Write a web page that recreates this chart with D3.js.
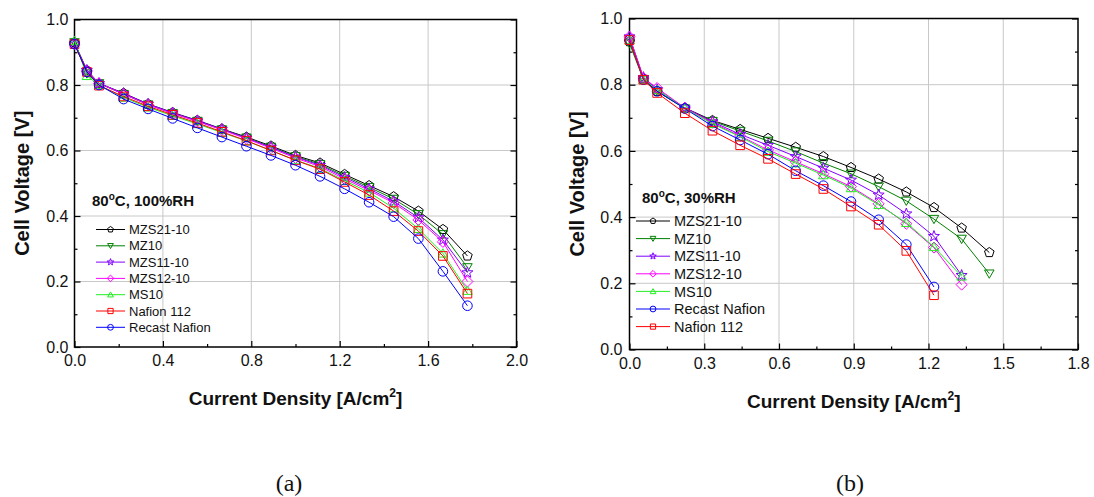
<!DOCTYPE html>
<html>
<head>
<meta charset="utf-8">
<script src="https://cdn.jsdelivr.net/npm/d3@7"></script>
<style>
  body { margin: 0; background: #fff; }
  svg { font-family: "Liberation Sans", Arial, sans-serif; }
</style>
</head>
<body>
<svg id="chart" width="1094" height="497"></svg>
<script>
// ---- data, panel (a): 80 C, 100 %RH ----
const xA = [0, 0.056, 0.111, 0.222, 0.333, 0.444, 0.556, 0.667, 0.778, 0.889, 1.0, 1.111, 1.222, 1.333, 1.444, 1.556, 1.667, 1.778];
const mzs21A = [0.93, 0.845, 0.805, 0.775, 0.742, 0.716, 0.692, 0.666, 0.641, 0.614, 0.585, 0.562, 0.527, 0.493, 0.459, 0.415, 0.359, 0.278];
const mz10A = [0.93, 0.835, 0.805, 0.772, 0.74, 0.714, 0.69, 0.664, 0.639, 0.611, 0.582, 0.558, 0.522, 0.488, 0.452, 0.405, 0.344, 0.243];
const mzs11A = [0.925, 0.845, 0.805, 0.774, 0.742, 0.715, 0.691, 0.665, 0.638, 0.61, 0.58, 0.555, 0.518, 0.483, 0.445, 0.395, 0.327, 0.227];
const mzs12A = [0.925, 0.843, 0.805, 0.772, 0.74, 0.713, 0.689, 0.663, 0.636, 0.607, 0.577, 0.551, 0.513, 0.478, 0.44, 0.388, 0.321, 0.2];
const ms10A = [0.935, 0.828, 0.8, 0.762, 0.732, 0.706, 0.681, 0.655, 0.629, 0.6, 0.571, 0.545, 0.508, 0.472, 0.424, 0.361, 0.286, 0.172];
const nafionA = [0.925, 0.84, 0.798, 0.765, 0.735, 0.709, 0.684, 0.657, 0.63, 0.6, 0.57, 0.543, 0.504, 0.464, 0.415, 0.354, 0.278, 0.163];
const recastA = [0.925, 0.84, 0.8, 0.757, 0.727, 0.698, 0.669, 0.641, 0.613, 0.585, 0.555, 0.521, 0.483, 0.442, 0.398, 0.331, 0.231, 0.126];

// ---- data, panel (b): 80 C, 30 %RH ----
const xB = [0, 0.056, 0.111, 0.222, 0.333, 0.444, 0.556, 0.667, 0.778, 0.889, 1.0, 1.111, 1.222, 1.333, 1.444];
const mzs21B = [0.93, 0.82, 0.78, 0.73, 0.692, 0.665, 0.638, 0.611, 0.583, 0.55, 0.515, 0.476, 0.429, 0.367, 0.293];
const mz10B = [0.925, 0.815, 0.78, 0.728, 0.69, 0.66, 0.63, 0.598, 0.563, 0.531, 0.492, 0.449, 0.394, 0.334, 0.229];
const mzs11B = [0.945, 0.822, 0.785, 0.73, 0.688, 0.65, 0.617, 0.583, 0.548, 0.512, 0.467, 0.41, 0.342, 0.224];
const mzs12B = [0.945, 0.82, 0.79, 0.73, 0.685, 0.645, 0.603, 0.567, 0.531, 0.492, 0.44, 0.38, 0.308, 0.196];
const ms10B = [0.935, 0.815, 0.785, 0.728, 0.682, 0.643, 0.598, 0.563, 0.527, 0.488, 0.437, 0.383, 0.31, 0.221];
const recastB = [0.935, 0.815, 0.78, 0.728, 0.675, 0.633, 0.59, 0.54, 0.495, 0.447, 0.392, 0.317, 0.189];
const nafionB = [0.935, 0.815, 0.775, 0.714, 0.661, 0.617, 0.576, 0.53, 0.485, 0.432, 0.377, 0.298, 0.164];

// ---- tick values ----
const yMajor = [0, 0.2, 0.4, 0.6, 0.8, 1.0];
const yMinor = [0.1, 0.3, 0.5, 0.7, 0.9];
const xMajorA = [0, 0.4, 0.8, 1.2, 1.6, 2.0];
const xMinorA = [0.2, 0.6, 1.0, 1.4, 1.8];
const xMajorB = [0, 0.3, 0.6, 0.9, 1.2, 1.5, 1.8];
const xMinorB = [0.15, 0.45, 0.75, 1.05, 1.35, 1.65];

// series styles
const styles = {
  'MZS21-10': { color: '#000000', sym: 'pentagon' },
  'MZ10': { color: '#008000', sym: 'down' },
  'MZS11-10': { color: '#8000ff', sym: 'star' },
  'MZS12-10': { color: '#ff00ff', sym: 'diamond' },
  'MS10': { color: '#22ee22', sym: 'up' },
  'Nafion 112': { color: '#ff0000', sym: 'square' },
  'Recast Nafion': { color: '#0000ff', sym: 'circle' },
};

function symbolPath(type, r) {
  const poly = (n, rad, rot) => d3.range(n).map(i => {
    const a = rot + (i * 2 * Math.PI) / n;
    return [rad * Math.cos(a), rad * Math.sin(a)];
  });
  let pts;
  if (type === 'circle') {
    return `M${r},0A${r},${r},0,1,1,${-r},0A${r},${r},0,1,1,${r},0Z`;
  } else if (type === 'square') {
    const s = r * 0.9;
    pts = [[-s, -s], [s, -s], [s, s], [-s, s]];
  } else if (type === 'diamond') {
    pts = poly(4, r * 1.15, -Math.PI / 2);
  } else if (type === 'up') {
    pts = poly(3, r * 1.15, -Math.PI / 2).map(p => [p[0], p[1] + r * 0.2]);
  } else if (type === 'down') {
    pts = poly(3, r * 1.15, Math.PI / 2).map(p => [p[0], p[1] - r * 0.2]);
  } else if (type === 'pentagon') {
    pts = poly(5, r * 1.05, -Math.PI / 2);
  } else if (type === 'star') {
    pts = d3.range(10).map(i => {
      const a = -Math.PI / 2 + (i * Math.PI) / 5;
      const rad = i % 2 === 0 ? r * 1.2 : r * 0.5;
      return [rad * Math.cos(a), rad * Math.sin(a)];
    });
  }
  return 'M' + pts.map(p => p[0].toFixed(2) + ',' + p[1].toFixed(2)).join('L') + 'Z';
}

const svg = d3.select('#chart');

function drawPanel(p) {
  const x = d3.scaleLinear().domain([0, p.xMax]).range([p.left, p.right]);
  const y = d3.scaleLinear().domain([0, 1]).range([p.bottom, p.top]);
  const g = svg.append('g');

  // grid
  g.selectAll('line.gx').data(p.xMajor.slice(1, -1)).join('line')
    .attr('x1', d => x(d)).attr('x2', d => x(d))
    .attr('y1', p.top).attr('y2', p.bottom)
    .attr('stroke', '#c8c8c8').attr('stroke-width', 1);
  g.selectAll('line.gy').data(yMajor.slice(1, -1)).join('line')
    .attr('x1', p.left).attr('x2', p.right)
    .attr('y1', d => y(d)).attr('y2', d => y(d))
    .attr('stroke', '#c8c8c8').attr('stroke-width', 1);

  // axes
  const fmt = d3.format('.1f');
  g.append('g').attr('transform', `translate(0,${p.bottom})`)
    .call(d3.axisBottom(x).tickValues(p.xMajor).tickFormat(fmt).tickSizeInner(-6).tickSizeOuter(0).tickPadding(8));
  g.append('g').attr('transform', `translate(0,${p.bottom})`)
    .call(d3.axisBottom(x).tickValues(p.xMinor).tickFormat('').tickSizeInner(-3).tickSizeOuter(0));
  g.append('g').attr('transform', `translate(${p.left},0)`)
    .call(d3.axisLeft(y).tickValues(yMajor).tickFormat(fmt).tickSizeInner(-6).tickSizeOuter(0).tickPadding(p.yPad));
  g.append('g').attr('transform', `translate(${p.left},0)`)
    .call(d3.axisLeft(y).tickValues(yMinor).tickFormat('').tickSizeInner(-3).tickSizeOuter(0));
  g.append('g').attr('transform', `translate(${p.right},0)`)
    .call(d3.axisRight(y).tickValues(yMajor).tickFormat('').tickSizeInner(-6).tickSizeOuter(0));
  g.append('g').attr('transform', `translate(${p.right},0)`)
    .call(d3.axisRight(y).tickValues(yMinor).tickFormat('').tickSizeInner(-3).tickSizeOuter(0));
  g.selectAll('.tick text').attr('font-size', 16).attr('fill', '#111')
    .attr('font-family', '"Liberation Sans", Arial, sans-serif');
  g.selectAll('.tick line').attr('stroke', '#000').attr('stroke-width', 1.2);
  g.selectAll('.domain').remove();

  // frame
  g.append('rect')
    .attr('x', p.left).attr('y', p.top)
    .attr('width', p.right - p.left).attr('height', p.bottom - p.top)
    .attr('fill', 'none').attr('stroke', '#000').attr('stroke-width', 1.5);

  // data
  const line = d3.line().x(d => x(d[0])).y(d => y(d[1]));
  p.series.forEach(s => {
    const st = styles[s.name];
    const pts = s.values.map((v, i) => [p.xs[i], v]);
    g.append('path').datum(pts)
      .attr('d', line).attr('fill', 'none')
      .attr('stroke', st.color).attr('stroke-width', 1);
    g.selectAll(null).data(pts).join('path')
      .attr('transform', d => `translate(${x(d[0])},${y(d[1])})`)
      .attr('d', symbolPath(st.sym, 4.8))
      .attr('fill', 'none').attr('stroke', st.color).attr('stroke-width', 1);
  });

  // legend
  p.legendOrder.forEach((name, i) => {
    const st = styles[name];
    const cy = p.leg.y + i * p.leg.dy;
    g.append('line')
      .attr('x1', p.leg.x1).attr('x2', p.leg.x2).attr('y1', cy).attr('y2', cy)
      .attr('stroke', st.color).attr('stroke-width', 1);
    g.append('path')
      .attr('transform', `translate(${(p.leg.x1 + p.leg.x2) / 2},${cy})`)
      .attr('d', symbolPath(st.sym, 2.9))
      .attr('fill', 'none').attr('stroke', st.color).attr('stroke-width', 1);
    g.append('text')
      .attr('x', p.leg.tx).attr('y', cy).attr('dy', '0.36em')
      .attr('font-size', p.leg.fs).attr('fill', '#111')
      .text(name);
  });

  // annotation
  const ann = g.append('text')
    .attr('x', p.ann.x).attr('y', p.ann.y)
    .attr('font-size', 15).attr('font-weight', 'bold').attr('fill', '#111');
  ann.append('tspan').text('80');
  ann.append('tspan').attr('font-size', 10).attr('dy', -6).text('o');
  ann.append('tspan').attr('dy', 6).text('C, ' + p.ann.text);

  // axis titles
  const xt = g.append('text')
    .attr('x', (p.left + p.right) / 2).attr('y', p.bottom + 58)
    .attr('text-anchor', 'middle').attr('font-size', 19).attr('font-weight', 'bold').attr('fill', '#111');
  xt.append('tspan').text('Current Density [A/cm');
  xt.append('tspan').attr('font-size', 12).attr('dy', -8).text('2');
  xt.append('tspan').attr('dy', 8).text(']');

  g.append('text')
    .attr('transform', `translate(${p.left - 46},${(p.top + p.bottom) / 2}) rotate(-90)`)
    .attr('text-anchor', 'middle').attr('font-size', 20).attr('font-weight', 'bold').attr('fill', '#111')
    .text('Cell Voltage [V]');

  // panel caption
  g.append('text')
    .attr('x', p.cap.x).attr('y', 491)
    .attr('text-anchor', 'middle').attr('font-size', 24)
    .attr('font-family', '"Liberation Serif", "Times New Roman", serif').attr('fill', '#111')
    .text(p.cap.text);
}

drawPanel({
  left: 74.5, right: 516.5, top: 19.5, bottom: 347,
  xMax: 2.0, xMajor: xMajorA, xMinor: xMinorA, yPad: 6, xs: xA,
  series: [
    { name: 'MZS21-10', values: mzs21A },
    { name: 'MZ10', values: mz10A },
    { name: 'MZS11-10', values: mzs11A },
    { name: 'MZS12-10', values: mzs12A },
    { name: 'MS10', values: ms10A },
    { name: 'Nafion 112', values: nafionA },
    { name: 'Recast Nafion', values: recastA },
  ],
  legendOrder: ['MZS21-10', 'MZ10', 'MZS11-10', 'MZS12-10', 'MS10', 'Nafion 112', 'Recast Nafion'],
  leg: { x1: 96, x2: 125, tx: 129, y: 229.5, dy: 16.3, fs: 13 },
  ann: { x: 92, y: 206, text: '100%RH' },
  cap: { x: 289, text: '(a)' },
});

drawPanel({
  left: 629.5, right: 1078, top: 18.5, bottom: 349.5,
  xMax: 1.8, xMajor: xMajorB, xMinor: xMinorB, yPad: 7, xs: xB,
  series: [
    { name: 'MZS21-10', values: mzs21B },
    { name: 'MZ10', values: mz10B },
    { name: 'MZS11-10', values: mzs11B },
    { name: 'MZS12-10', values: mzs12B },
    { name: 'MS10', values: ms10B },
    { name: 'Recast Nafion', values: recastB },
    { name: 'Nafion 112', values: nafionB },
  ],
  legendOrder: ['MZS21-10', 'MZ10', 'MZS11-10', 'MZS12-10', 'MS10', 'Recast Nafion', 'Nafion 112'],
  leg: { x1: 636, x2: 670, tx: 674, y: 221, dy: 17.6, fs: 14.5 },
  ann: { x: 642, y: 203, text: '30%RH' },
  cap: { x: 850, text: '(b)' },
});
</script>
</body>
</html>
